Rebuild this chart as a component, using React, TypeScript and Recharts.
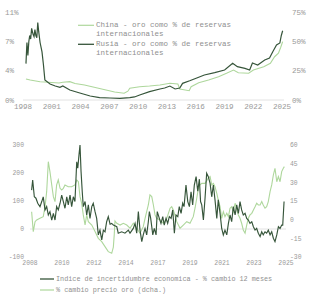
import React from 'react';
import { LineChart, Line, XAxis, YAxis, ReferenceLine } from 'recharts';

const FONT = '"Liberation Mono", "DejaVu Sans Mono", monospace';
const DARK = '#36553a';
const LIGHT = '#aed79c';
const TXT = '#999999';

// ---- Top chart: gold as % of reserves ----
const topXTicks = [1998, 2001, 2004, 2007, 2010, 2013, 2016, 2019, 2022, 2025];
const topLeftTicks = [0, 3.667, 7.333, 11];
const topLeftLabels = ['0%', '4%', '7%', '11%'];
const topRightTicks = [0, 25, 50, 75];

const chinaYears = [1998.31, 1998.75, 1999.78, 2000.28, 2001.75, 2002.15, 2002.88, 2003.42, 2004.41, 2005.98, 2007.55, 2008.54, 2008.93, 2009.13, 2010.16, 2011.19, 2012.27, 2013.31, 2014.14, 2014.34, 2015.32, 2015.52, 2016.31, 2017.34, 2018.38, 2019.21, 2019.94, 2020.44, 2021.52, 2022.01, 2023.09, 2023.78, 2024.22, 2024.62, 2024.86, 2025.06];
const chinaGold = [2.63, 2.5, 2.29, 2.25, 2.13, 2.21, 2.29, 2.06, 1.88, 1.44, 1.0, 0.84, 1.1, 1.46, 1.66, 1.75, 1.88, 2.09, 2.0, 1.38, 1.16, 1.66, 2.16, 2.5, 2.91, 3.34, 3.75, 3.41, 3.34, 3.75, 4.16, 4.59, 5.41, 5.84, 6.6, 7.29];

const russiaYears = [1998.31, 1998.41, 1998.51, 1998.61, 1998.70, 1998.80, 1998.90, 1999.05, 1999.15, 1999.24, 1999.34, 1999.44, 1999.54, 1999.64, 1999.78, 1999.98, 2000.13, 2000.28, 2000.82, 2001.36, 2001.85, 2002.15, 2002.88, 2003.92, 2005.00, 2005.98, 2007.06, 2008.10, 2009.13, 2009.62, 2010.16, 2011.19, 2012.27, 2012.76, 2013.31, 2013.85, 2014.34, 2014.63, 2015.37, 2016.11, 2016.90, 2017.98, 2019.01, 2019.85, 2020.34, 2021.13, 2021.62, 2021.91, 2022.46, 2023.19, 2023.69, 2024.03, 2024.42, 2024.77, 2024.92, 2025.06];
const russiaGold = [31, 49, 38, 50, 55, 52, 61, 56, 54, 60, 55, 53, 66, 58, 49, 41, 30, 17, 13.6, 11.9, 10.8, 11.9, 8.5, 6, 3.4, 2.1, 1.7, 1.4, 2.0, 2.6, 4.3, 7.1, 9.4, 10.2, 11.9, 9.4, 10.2, 14.2, 16.4, 18.8, 21.3, 23.3, 25.6, 31.3, 28.4, 27, 25.6, 31.5, 29.8, 34.1, 35.8, 41.2, 46.9, 48.6, 55, 59];

// ---- Bottom chart: uncertainty index vs gold price ----
const bottomXTicks = [2008, 2010.15, 2012.3, 2014.45, 2016.6, 2018.75, 2020.9, 2023.05, 2025.2];
const bottomXLabels = ['2008', '2010', '2012', '2014', '2017', '2019', '2021', '2023', '2025'];
const bottomLeftTicks = [-100, 0, 100, 200, 300];
const bottomRightTicks = [-30, -15, 0, 15, 30, 45, 60];

const uncYears = [2008.11, 2008.18, 2008.29, 2008.40, 2008.52, 2008.67, 2008.79, 2008.89, 2009.01, 2009.12, 2009.23, 2009.34, 2009.46, 2009.57, 2009.68, 2009.79, 2009.90, 2010.02, 2010.13, 2010.24, 2010.35, 2010.47, 2010.57, 2010.69, 2010.80, 2010.91, 2011.02, 2011.14, 2011.21, 2011.29, 2011.36, 2011.43, 2011.51, 2011.58, 2011.70, 2011.81, 2011.92, 2012.03, 2012.15, 2012.25, 2012.37, 2012.48, 2012.59, 2012.70, 2012.82, 2012.93, 2013.04, 2013.15, 2013.26, 2013.38, 2013.49, 2013.60, 2013.83, 2013.93, 2014.16, 2014.38, 2014.61, 2014.72, 2014.94, 2015.06, 2015.17, 2015.28, 2015.39, 2015.51, 2015.61, 2015.73, 2015.84, 2015.95, 2016.02, 2016.11, 2016.25, 2016.35, 2016.47, 2016.55, 2016.69, 2016.80, 2016.92, 2017.02, 2017.14, 2017.25, 2017.36, 2017.48, 2017.59, 2017.70, 2017.81, 2017.93, 2018.03, 2018.15, 2018.26, 2018.35, 2018.48, 2018.60, 2018.71, 2018.82, 2018.93, 2019.04, 2019.16, 2019.27, 2019.38, 2019.46, 2019.54, 2019.65, 2019.76, 2019.87, 2019.98, 2020.10, 2020.21, 2020.32, 2020.43, 2020.55, 2020.65, 2020.77, 2020.88, 2020.99, 2021.10, 2021.22, 2021.33, 2021.44, 2021.55, 2021.66, 2021.78, 2021.89, 2022.00, 2022.11, 2022.22, 2022.33, 2022.45, 2022.56, 2022.67, 2022.78, 2022.90, 2023.01, 2023.12, 2023.23, 2023.34, 2023.46, 2023.57, 2023.67, 2023.79, 2023.90, 2024.01, 2024.13, 2024.24, 2024.35, 2024.46, 2024.58, 2024.69, 2024.80, 2024.91, 2024.98, 2025.07];
const uncChange = [139, 175, 115, 110, 92, 80, 98, 115, 68, 80, 50, 62, 32, 56, 32, 80, 68, 92, 121, 98, 74, 115, 86, 121, 80, 115, 98, 240, 217, 264, 300, 205, 133, 80, 98, 50, 86, 38, 80, 92, 62, 38, -21, -4, -39, -4, -10, 26, 44, 17, 20, 14, 8, -15, -10, -15, -4, -15, 2, 20, -15, 62, -4, -45, -21, 2, -21, 26, 62, 38, -21, 2, -21, 62, 38, 20, 44, 14, 38, 20, 44, 38, 68, -15, 50, 44, 80, 56, 92, 80, 157, 98, 80, 133, 86, 157, 187, 135, 178, 98, 86, 32, 110, 199, 187, 163, 115, 157, 104, 38, 104, 56, 2, -21, -4, -21, 20, 50, 26, 80, 50, 86, 56, 98, 68, 50, 56, 38, 32, 20, 26, 8, -4, 2, -15, -27, -10, -21, -10, -15, -4, -21, -10, -33, -45, -21, 8, 2, 14, 14, 98];

const goldYears = [2008.11, 2008.22, 2008.34, 2008.45, 2008.67, 2008.89, 2009.01, 2009.12, 2009.23, 2009.34, 2009.46, 2009.57, 2009.68, 2009.79, 2009.90, 2010.02, 2010.13, 2010.24, 2010.35, 2010.57, 2010.80, 2011.02, 2011.14, 2011.25, 2011.36, 2011.47, 2011.58, 2011.70, 2011.81, 2011.92, 2012.15, 2012.37, 2012.59, 2012.82, 2013.04, 2013.26, 2013.49, 2013.60, 2013.66, 2013.71, 2013.83, 2014.05, 2014.27, 2014.50, 2014.72, 2014.94, 2015.17, 2015.39, 2015.61, 2015.73, 2015.84, 2015.95, 2016.06, 2016.18, 2016.29, 2016.40, 2016.51, 2016.74, 2016.96, 2017.19, 2017.41, 2017.52, 2017.63, 2017.86, 2018.08, 2018.30, 2018.53, 2018.75, 2018.97, 2019.10, 2019.20, 2019.31, 2019.42, 2019.54, 2019.76, 2019.98, 2020.10, 2020.21, 2020.32, 2020.43, 2020.55, 2020.65, 2020.77, 2020.88, 2020.99, 2021.10, 2021.22, 2021.33, 2021.44, 2021.55, 2021.66, 2021.78, 2021.89, 2022.00, 2022.11, 2022.22, 2022.33, 2022.45, 2022.56, 2022.67, 2022.78, 2022.90, 2023.01, 2023.12, 2023.23, 2023.34, 2023.46, 2023.57, 2023.67, 2023.79, 2023.90, 2024.01, 2024.13, 2024.24, 2024.35, 2024.46, 2024.58, 2024.69, 2024.80, 2024.91, 2025.02, 2025.09];
const goldChange = [6.4, -9.6, -1.6, -0.2, 1.1, 2.4, 10.4, 22.5, 46.6, 38.6, 27.9, 18.5, 14.5, 27.9, 31.9, 25.2, 23.9, 25.2, 27.9, 26.5, 26.5, 27.9, 31.9, 30.5, 18.5, 13.2, 3.8, -4.3, 3.8, -1.6, -4.3, -9.6, -15, -17.7, -21.7, -25.7, -27, -22, -12, -1, -2.9, -4.3, -2.9, -4.3, -6.9, -2.9, -6.9, -10.9, -5.6, 1.1, 6.4, 11.8, 19.9, 18.5, 11.8, 3.8, 1.1, -0.2, -2.9, 1.1, 9.2, 10.4, 7.8, -1.6, -6.9, -4.3, -1.6, -2.9, 2.4, 10, 17, 25, 28, 29.2, 29.2, 33.3, 34.6, 27.9, 29.2, 26.5, 21.2, 15.8, 10.4, 1.1, 6.4, 2.4, 5.1, 2.4, 9.2, 10.4, 6.4, 13.2, 7.8, 3.8, 1.1, -2.9, -8.3, -10.9, -4.3, 1.1, 3.8, 5.1, 7.8, 10.4, 13.2, 11.8, 11.8, 14.5, 11.8, 9.2, 10.4, 14.5, 22.5, 27.9, 35.9, 41.3, 30.5, 34.6, 30.5, 38.6, 41.3, 42.6];

const zip = (xs: number[], vs: number[]) => xs.map((year, i) => ({ year, v: vs[i] }));
const chinaData = zip(chinaYears, chinaGold);
const russiaData = zip(russiaYears, russiaGold);
const uncData = zip(uncYears, uncChange);
const goldData = zip(goldYears, goldChange);

const topTick = { fontSize: 7.6, fill: TXT, fontFamily: FONT };
const botTick = { fontSize: 6.4, fill: TXT, fontFamily: FONT };

const TopLeftTick = (p: any) => (
  <text x={p.x - 18} y={p.y} dy={2.5} fontSize={7.6} fill={TXT} fontFamily={FONT} textAnchor="start">
    {topLeftLabels[p.index]}
  </text>
);

const legendText: React.CSSProperties = {
  fontFamily: FONT,
  color: '#8f8f8f',
  whiteSpace: 'pre',
};

function LegendItem({ color, lines, top, left, fontSize, lh, sw, width }: any) {
  return (
    <div style={{ position: 'absolute', top, left, display: 'flex', alignItems: 'flex-start' }}>
      <svg width={width} height={lh} style={{ display: 'block' }}>
        <line x1={0} x2={width - 1} y1={lh / 2} y2={lh / 2} stroke={color} strokeWidth={sw} />
      </svg>
      <div style={{ ...legendText, fontSize, lineHeight: lh + 'px', marginLeft: 1 }}>
        {lines.join('\n')}
      </div>
    </div>
  );
}

export default function App() {
  return (
    <div style={{ position: 'absolute', left: 0, top: 0, width: 324, height: 300, background: '#fff', overflow: 'hidden' }}>
      <div style={{ position: 'absolute', left: 0, top: 0 }}>
        <LineChart width={324} height={112} margin={{ top: 12, right: 0, left: 0, bottom: 0 }}>
          <XAxis
            dataKey="year"
            type="number"
            domain={[1998, 2025.2]}
            ticks={topXTicks}
            allowDataOverflow
            tick={topTick}
            tickLine={false}
            tickSize={0}
            tickMargin={4}
            axisLine={{ stroke: '#e2e2e2' }}
            height={12}
            interval={0}
          />
          <YAxis
            yAxisId="l"
            domain={[0, 11]}
            ticks={topLeftTicks}
            width={23}
            axisLine={false}
            tickLine={false}
            tickSize={0}
            tickMargin={0}
            tick={TopLeftTick}
            interval={0}
          />
          <YAxis
            yAxisId="r"
            orientation="right"
            domain={[0, 75]}
            ticks={topRightTicks}
            tickFormatter={(v: number) => v + '%'}
            width={40}
            axisLine={false}
            tickLine={false}
            tickSize={0}
            tickMargin={8}
            tick={topTick}
            interval={0}
          />
          <Line yAxisId="l" data={chinaData} dataKey="v" stroke={LIGHT} strokeWidth={1.1} dot={false} isAnimationActive={false} />
          <Line yAxisId="r" data={russiaData} dataKey="v" stroke={DARK} strokeWidth={1.2} dot={false} isAnimationActive={false} />
        </LineChart>
      </div>
      <LegendItem color={LIGHT} lines={['China - oro como % de reservas', 'internacionales']} top={21} left={78} fontSize={7.5} lh={8.6} sw={1.2} width={17} />
      <LegendItem color={DARK} lines={['Rusia - oro como % de reservas', 'internacionales']} top={40} left={78} fontSize={7.5} lh={8.6} sw={1.3} width={17} />

      <div style={{ position: 'absolute', left: 0, top: 120 }}>
        <LineChart width={324} height={150} margin={{ top: 25, right: 0, left: 0, bottom: 1 }}>
          <XAxis
            dataKey="year"
            type="number"
            domain={[2008, 2025.2]}
            ticks={bottomXTicks}
            tickFormatter={(_v: number, i: number) => bottomXLabels[i]}
            allowDataOverflow
            tick={botTick}
            tickLine={false}
            tickSize={0}
            tickMargin={3}
            axisLine={false}
            height={12}
            interval={0}
          />
          <YAxis
            yAxisId="l"
            domain={[-100, 300]}
            ticks={bottomLeftTicks}
            width={30}
            axisLine={false}
            tickLine={false}
            tickSize={0}
            tickMargin={6}
            tick={botTick}
            interval={0}
          />
          <YAxis
            yAxisId="r"
            orientation="right"
            domain={[-30, 60]}
            ticks={bottomRightTicks}
            width={38}
            axisLine={false}
            tickLine={false}
            tickSize={0}
            tickMargin={4}
            tick={botTick}
            interval={0}
          />
          <ReferenceLine yAxisId="l" y={0} stroke="#e2e2e2" strokeWidth={1} />
          <Line yAxisId="r" data={goldData} dataKey="v" stroke={LIGHT} strokeWidth={1.1} dot={false} isAnimationActive={false} />
          <Line yAxisId="l" data={uncData} dataKey="v" stroke={DARK} strokeWidth={1.15} dot={false} isAnimationActive={false} />
        </LineChart>
      </div>
      <LegendItem color={DARK} lines={['Indice de incertidumbre economica - % cambio 12 meses']} top={275} left={40} fontSize={6.8} lh={8} sw={1.3} width={15} />
      <LegendItem color={LIGHT} lines={['% cambio precio oro (dcha.)']} top={286} left={40} fontSize={6.8} lh={8} sw={1.2} width={15} />
    </div>
  );
}
